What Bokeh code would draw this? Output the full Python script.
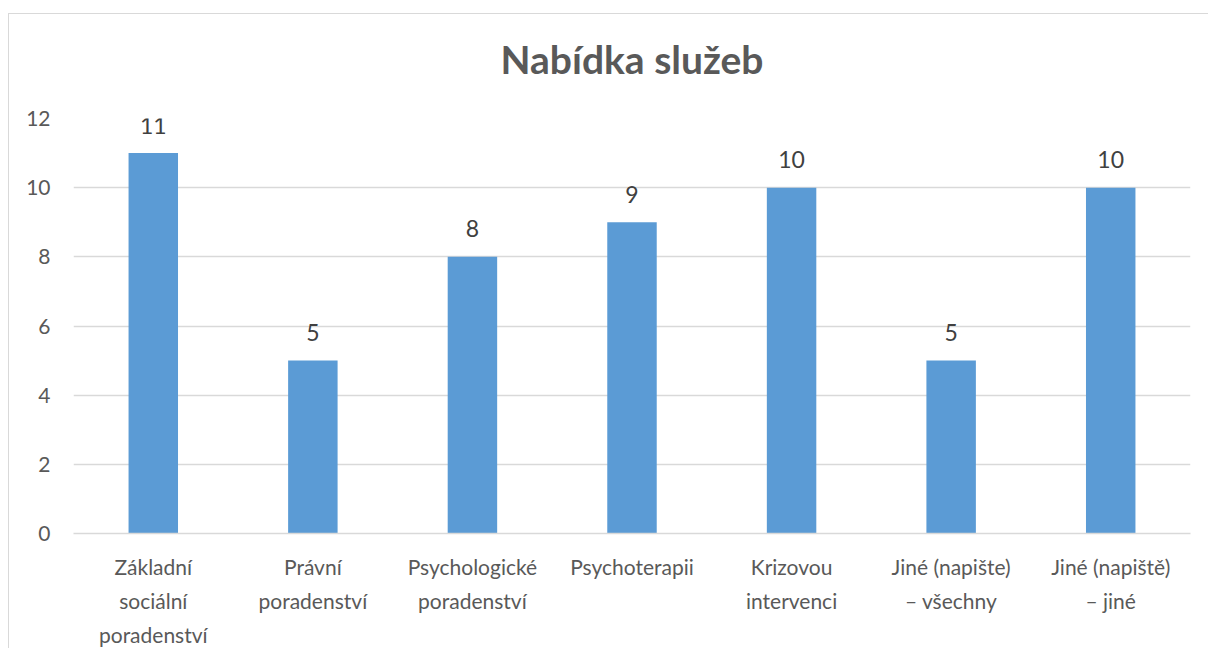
from bokeh.plotting import figure
from bokeh.models import ColumnDataSource, LabelSet, Range1d, FixedTicker, LinearAxis
from bokeh.core.properties import value
from bokeh.embed import file_html
from bokeh.resources import INLINE

categories = ["Základní sociální poradenství", "Právní poradenství",
              "Psychologické poradenství", "Psychoterapii",
              "Krizovou intervenci", "Jiné (napište) – všechny",
              "Jiné (napiště) – jiné"]
tick_labels = ["Základní\nsociální\nporadenství", "Právní\nporadenství",
               "Psychologické\nporadenství", "Psychoterapii",
               "Krizovou\nintervenci", "Jiné (napište)\n– všechny",
               "Jiné (napiště)\n– jiné"]
values = [11, 5, 8, 9, 10, 5, 10]
y_ticks = [0, 2, 4, 6, 8, 10, 12]
title_text = "Nabídka služeb"

FONT = "Lato"
GREY = "#595959"

pos = list(range(len(categories)))
src = ColumnDataSource(dict(x=pos, cat=categories, val=values,
                            lab=[str(v) for v in values]))

p = figure(x_range=Range1d(-0.5, len(categories) - 0.5), y_range=Range1d(0, 12),
           width=1200, height=635, output_backend="svg",
           toolbar_location=None,
           min_border_left=64, min_border_right=19,
           min_border_top=104, min_border_bottom=10)
p.styles = {"margin-left": "8px", "margin-top": "13px",
            "border-left": "1px solid #d9d9d9", "border-top": "1px solid #d9d9d9"}

p.vbar(x="x", top="val", width=0.31, source=src,
       fill_color="#5B9BD5", line_color=None)

labels = LabelSet(x="x", y="val", text="lab", source=src,
                  text_align="center", text_baseline="middle",
                  y_offset=28, text_font=value(FONT), text_font_size="23px",
                  text_color="#404040")
p.add_layout(labels)

main_xaxis = p.below[0]

# invisible spacer axis between frame and title (white tick on white)
spacer_axis = LinearAxis(ticker=FixedTicker(ticks=[-0.5]), axis_line_color=None,
                         major_tick_line_color="white", minor_tick_line_color=None,
                         major_tick_out=37, minor_tick_out=0, major_tick_in=0,
                         minor_tick_in=0, major_label_standoff=0,
                         major_label_overrides={-0.5: ""})
p.add_layout(spacer_axis, "above")

p.title.text = title_text
p.title.align = "center"
p.title.text_font = FONT
p.title.text_font_size = "39px"
p.title.text_font_style = "bold"
p.title.text_color = GREY
p.title.offset = 0
p.title.standoff = 0

p.outline_line_color = None
p.background_fill_color = "white"
p.border_fill_color = "white"

p.xgrid.grid_line_color = None
p.ygrid.grid_line_color = "#d9d9d9"
p.ygrid.grid_line_width = 1.3
p.yaxis.ticker = FixedTicker(ticks=y_ticks)

p.yaxis.axis_line_color = None
p.yaxis.major_tick_line_color = None
p.yaxis.minor_tick_line_color = None
p.yaxis.major_label_standoff = 17
p.yaxis.major_label_text_font = FONT
p.yaxis.major_label_text_font_size = "21px"
p.yaxis.major_label_text_color = GREY

# category labels: one stacked axis per text line
split = [t.split("\n") for t in tick_labels]
n_lines = max(len(s) for s in split)
for i in range(n_lines):
    overrides = {float(x): (s[i] if i < len(s) else " ") for x, s in zip(pos, split)}
    if i == 0:
        ax = main_xaxis
        ax.axis_line_color = "#d9d9d9"
        ax.axis_line_width = 1.3
        ax.major_label_standoff = 20
    else:
        ax = LinearAxis()
        ax.axis_line_color = None
        ax.major_label_standoff = 6
        p.add_layout(ax, "below")
    ax.ticker = FixedTicker(ticks=pos)
    ax.major_tick_line_color = None
    ax.minor_tick_line_color = None
    ax.major_tick_out = 0
    ax.major_tick_in = 0
    ax.major_label_text_font = FONT
    ax.major_label_text_font_size = "21px"
    ax.major_label_text_color = GREY
    ax.major_label_overrides = overrides

open("out.html", "w").write(file_html(p, INLINE))
